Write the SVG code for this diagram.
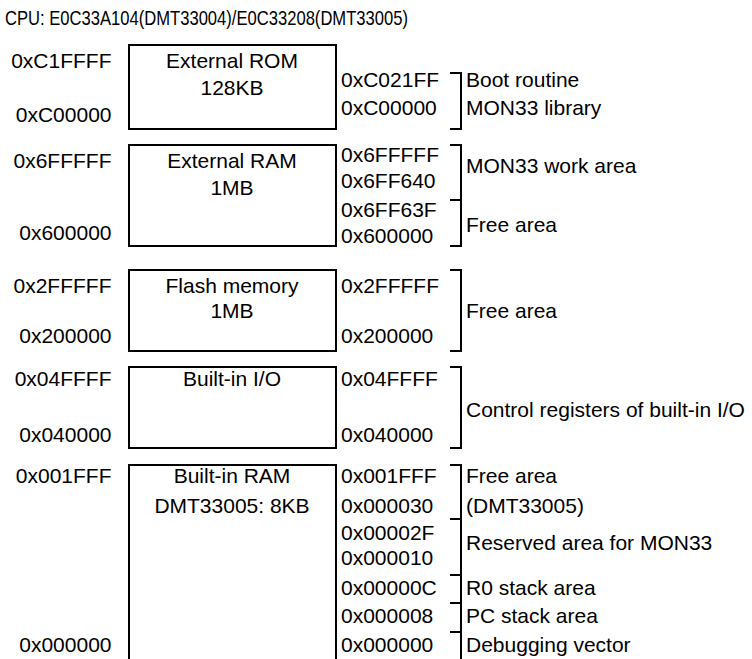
<svg xmlns="http://www.w3.org/2000/svg" width="752" height="659" viewBox="0 0 752 659">
<style>
text{font-family:"Liberation Sans",Arial,sans-serif;font-size:21px;fill:#000}
.m{text-anchor:middle}
.e{text-anchor:end}
.box{fill:none;stroke:#000;stroke-width:2}
.br{fill:none;stroke:#000;stroke-width:2}
</style>
<rect width="752" height="659" fill="#fff"/>
<text id="title" x="5" y="25" textLength="403" lengthAdjust="spacingAndGlyphs">CPU: E0C33A104(DMT33004)/E0C33208(DMT33005)</text>

<g id="ext-rom">
<rect class="box" x="129" y="45" width="207" height="84"/>
<text class="m" x="232" y="68">External ROM</text>
<text class="m" x="232" y="95">128KB</text>
<text class="e" x="111.5" y="68">0xC1FFFF</text>
<text class="e" x="111.5" y="122">0xC00000</text>
<text x="341" y="87">0xC021FF</text>
<text x="341" y="115">0xC00000</text>
<text x="466" y="87">Boot routine</text>
<text x="466" y="115">MON33 library</text>
</g>

<g id="ext-ram">
<rect class="box" x="129" y="145" width="207" height="101"/>
<text class="m" x="232" y="168">External RAM</text>
<text class="m" x="232" y="195">1MB</text>
<text class="e" x="111.5" y="168">0x6FFFFF</text>
<text class="e" x="111.5" y="240">0x600000</text>
<text x="341" y="162">0x6FFFFF</text>
<text x="341" y="188">0x6FF640</text>
<text x="341" y="217">0x6FF63F</text>
<text x="341" y="243">0x600000</text>
<text x="466" y="173">MON33 work area</text>
<text x="466" y="232">Free area</text>
</g>

<g id="flash">
<rect class="box" x="129" y="270" width="207" height="81"/>
<text class="m" x="232" y="293">Flash memory</text>
<text class="m" x="232" y="318">1MB</text>
<text class="e" x="111.5" y="293">0x2FFFFF</text>
<text class="e" x="111.5" y="343">0x200000</text>
<text x="341" y="293">0x2FFFFF</text>
<text x="341" y="343">0x200000</text>
<text x="466" y="318">Free area</text>
</g>

<g id="io">
<rect class="box" x="129" y="367" width="207" height="81"/>
<text class="m" x="232" y="386">Built-in I/O</text>
<text class="e" x="111.5" y="386">0x04FFFF</text>
<text class="e" x="111.5" y="442">0x040000</text>
<text x="341" y="386">0x04FFFF</text>
<text x="341" y="442">0x040000</text>
<text x="466" y="417">Control registers of built-in I/O</text>
</g>

<g id="ram">
<rect class="box" x="129" y="465" width="207" height="220"/>
<text class="m" x="232" y="483">Built-in RAM</text>
<text class="m" x="232" y="513">DMT33005: 8KB</text>
<text class="e" x="111.5" y="483">0x001FFF</text>
<text class="e" x="111.5" y="652">0x000000</text>
<text x="341" y="483">0x001FFF</text>
<text x="341" y="513">0x000030</text>
<text x="341" y="540">0x00002F</text>
<text x="341" y="565">0x000010</text>
<text x="341" y="595">0x00000C</text>
<text x="341" y="623">0x000008</text>
<text x="341" y="652">0x000000</text>
<text x="466" y="483">Free area</text>
<text x="466" y="513">(DMT33005)</text>
<text x="466" y="550">Reserved area for MON33</text>
<text x="466" y="595">R0 stack area</text>
<text x="466" y="623">PC stack area</text>
<text x="466" y="652">Debugging vector</text>
</g>

<g id="brackets">
<path class="br" d="M450,73H461V129H450"/>
<path class="br" d="M450,145H461V246H450M450,200H461"/>
<path class="br" d="M450,270H461V351H450"/>
<path class="br" d="M450,367H461V448H450"/>
<path class="br" d="M450,465H461V685M450,519H461M450,575H461M450,603H461M450,632H461"/>
</g>
</svg>
